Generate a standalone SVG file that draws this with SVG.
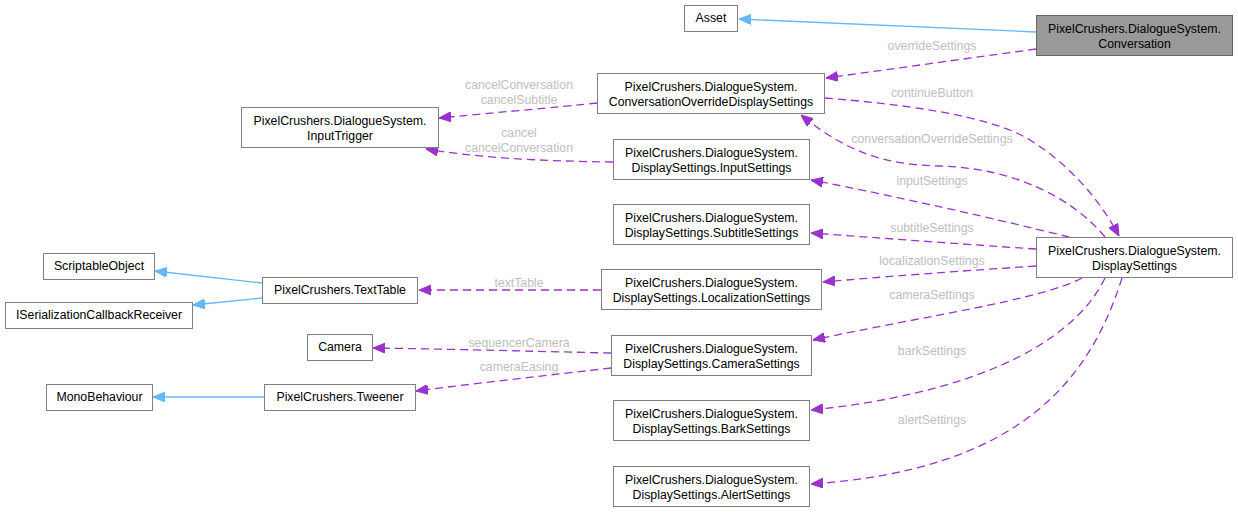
<svg xmlns="http://www.w3.org/2000/svg" width="1238" height="512" viewBox="0 0 1238 512">
<style>
.n rect{fill:#ffffff;stroke:#808080;stroke-width:1}
.n.cur rect{fill:#999999;stroke:#666666}
.n text{font-family:"Liberation Sans",Arial,sans-serif;font-size:12.3px;fill:#000000;text-anchor:middle}
.e path{fill:none;stroke-width:1.3}
.inh{stroke:#63b8ff}
.use{stroke:#9a32cd;stroke-dasharray:8,5}
.lbl{font-family:"Liberation Sans",Arial,sans-serif;font-size:12.3px;fill:#bebebe;text-anchor:middle}
</style>
<defs>
<marker id="ab" viewBox="0 0 12 10" refX="12" refY="5" markerWidth="12" markerHeight="10" markerUnits="userSpaceOnUse" orient="auto"><path d="M0,0 L12,5 L0,10 z" fill="#63b8ff" stroke="#63b8ff" stroke-width="1"/></marker>
<marker id="ap" viewBox="0 0 12 10" refX="12" refY="5" markerWidth="12" markerHeight="10" markerUnits="userSpaceOnUse" orient="auto"><path d="M0,0 L12,5 L0,10 z" fill="#9a32cd" stroke="#9a32cd" stroke-width="1"/></marker>
</defs>
<g id="connectors" class="e">
<path class="inh" d="M1036,32 L739,19" marker-end="url(#ab)"/>
<path class="use" d="M1036,49 L826,78" marker-end="url(#ap)"/>
<path class="use" d="M597,103 C560,107 480,114 439,118" marker-end="url(#ap)"/>
<path class="use" d="M613,162 C540,161 480,158 426,149" marker-end="url(#ap)"/>
<path class="use" d="M825,98 C900,104 990,115 1030,140 C1070,165 1100,200 1119,236" marker-end="url(#ap)"/>
<path class="use" d="M1105,237 C1070,195 1010,168 940,166 C890,165 850,155 801,115" marker-end="url(#ap)"/>
<path class="use" d="M1069,237 C1000,220 900,197 811,180" marker-end="url(#ap)"/>
<path class="use" d="M1036,249 C960,244 880,238 811,233" marker-end="url(#ap)"/>
<path class="use" d="M1036,266 C960,271 880,277 823,282" marker-end="url(#ap)"/>
<path class="use" d="M1082,278 C1040,300 930,315 813,340" marker-end="url(#ap)"/>
<path class="use" d="M1105,278 C1070,350 960,395 811,410" marker-end="url(#ap)"/>
<path class="use" d="M1122,278 C1090,380 1020,470 811,484" marker-end="url(#ap)"/>
<path class="use" d="M601,290 L419,290" marker-end="url(#ap)"/>
<path class="use" d="M611,353 C560,352 450,349 373,348" marker-end="url(#ap)"/>
<path class="use" d="M611,368 C560,374 470,384 416,391" marker-end="url(#ap)"/>
<path class="inh" d="M262,283 L155,271" marker-end="url(#ab)"/>
<path class="inh" d="M262,298 L193,305" marker-end="url(#ab)"/>
<path class="inh" d="M264,397 L153,397" marker-end="url(#ab)"/>
<text class="lbl" x="932" y="50">overrideSettings</text>
<text class="lbl" x="519" y="89">cancelConversation</text>
<text class="lbl" x="519" y="104">cancelSubtitle</text>
<text class="lbl" x="519" y="137">cancel</text>
<text class="lbl" x="519" y="152">cancelConversation</text>
<text class="lbl" x="932" y="97">continueButton</text>
<text class="lbl" x="932" y="143">conversationOverrideSettings</text>
<text class="lbl" x="932" y="185">inputSettings</text>
<text class="lbl" x="932" y="232">subtitleSettings</text>
<text class="lbl" x="932" y="265">localizationSettings</text>
<text class="lbl" x="932" y="299">cameraSettings</text>
<text class="lbl" x="932" y="355">barkSettings</text>
<text class="lbl" x="932" y="424">alertSettings</text>
<text class="lbl" x="519" y="287">textTable</text>
<text class="lbl" x="519" y="347">sequencerCamera</text>
<text class="lbl" x="519" y="371">cameraEasing</text>
</g>
<g id="Asset" class="n"><rect x="684.5" y="5.5" width="53" height="26"/><text x="711" y="22">Asset</text></g>
<g id="Conversation" class="n cur"><rect x="1036.5" y="15.5" width="196" height="40"/><text x="1134.5" y="33">PixelCrushers.DialogueSystem.</text><text x="1134.5" y="48">Conversation</text></g>
<g id="ConversationOverrideDisplaySettings" class="n"><rect x="597.5" y="73.5" width="227" height="40"/><text x="711" y="91">PixelCrushers.DialogueSystem.</text><text x="711" y="106">ConversationOverrideDisplaySettings</text></g>
<g id="InputTrigger" class="n"><rect x="241.5" y="107.5" width="197" height="40"/><text x="340" y="125">PixelCrushers.DialogueSystem.</text><text x="340" y="140">InputTrigger</text></g>
<g id="InputSettings" class="n"><rect x="613.5" y="139.5" width="196" height="40"/><text x="711.5" y="157">PixelCrushers.DialogueSystem.</text><text x="711.5" y="172">DisplaySettings.InputSettings</text></g>
<g id="SubtitleSettings" class="n"><rect x="613.5" y="204.5" width="196" height="40"/><text x="711.5" y="222">PixelCrushers.DialogueSystem.</text><text x="711.5" y="237">DisplaySettings.SubtitleSettings</text></g>
<g id="DisplaySettings" class="n"><rect x="1036.5" y="237.5" width="196" height="40"/><text x="1134.5" y="255">PixelCrushers.DialogueSystem.</text><text x="1134.5" y="270">DisplaySettings</text></g>
<g id="ScriptableObject" class="n"><rect x="43.5" y="253.5" width="111" height="26"/><text x="99" y="270">ScriptableObject</text></g>
<g id="TextTable" class="n"><rect x="262.5" y="277.5" width="155" height="26"/><text x="340" y="294">PixelCrushers.TextTable</text></g>
<g id="ISerializationCallbackReceiver" class="n"><rect x="5.5" y="302.5" width="187" height="26"/><text x="99" y="319">ISerializationCallbackReceiver</text></g>
<g id="LocalizationSettings" class="n"><rect x="601.5" y="269.5" width="220" height="40"/><text x="711.5" y="287">PixelCrushers.DialogueSystem.</text><text x="711.5" y="302">DisplaySettings.LocalizationSettings</text></g>
<g id="Camera" class="n"><rect x="307.5" y="334.5" width="65" height="26"/><text x="340" y="351">Camera</text></g>
<g id="CameraSettings" class="n"><rect x="611.5" y="335.5" width="200" height="40"/><text x="711.5" y="353">PixelCrushers.DialogueSystem.</text><text x="711.5" y="368">DisplaySettings.CameraSettings</text></g>
<g id="MonoBehaviour" class="n"><rect x="46.5" y="384.5" width="106" height="26"/><text x="99.5" y="401">MonoBehaviour</text></g>
<g id="Tweener" class="n"><rect x="264.5" y="384.5" width="151" height="26"/><text x="340" y="401">PixelCrushers.Tweener</text></g>
<g id="BarkSettings" class="n"><rect x="613.5" y="400.5" width="196" height="40"/><text x="711.5" y="418">PixelCrushers.DialogueSystem.</text><text x="711.5" y="433">DisplaySettings.BarkSettings</text></g>
<g id="AlertSettings" class="n"><rect x="613.5" y="466.5" width="196" height="40"/><text x="711.5" y="484">PixelCrushers.DialogueSystem.</text><text x="711.5" y="499">DisplaySettings.AlertSettings</text></g>
</svg>
